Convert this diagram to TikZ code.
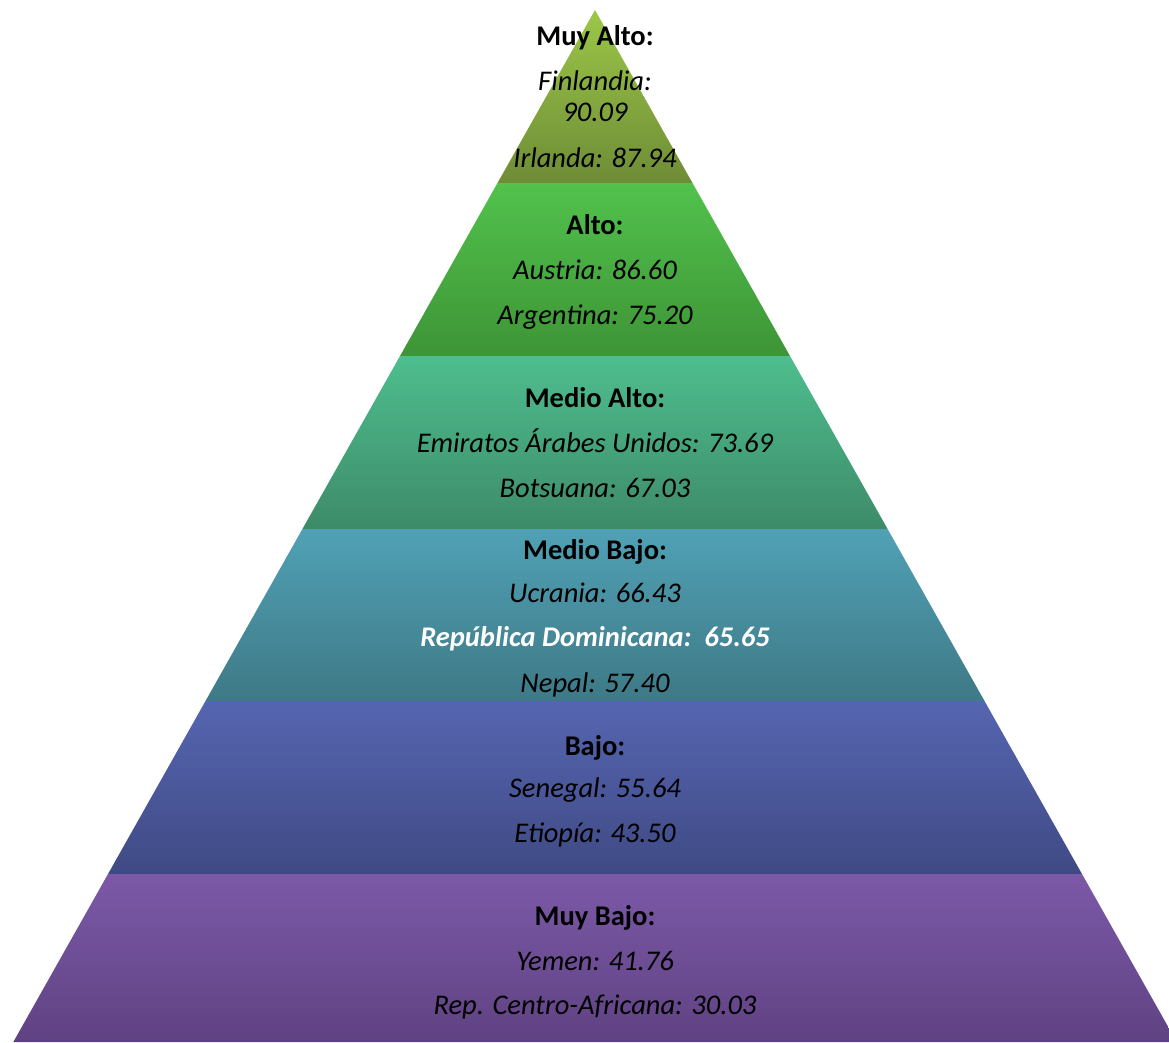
\documentclass[tikz,border=0pt]{standalone}
\usepackage{fontspec}
\setmainfont{Carlito}
\definecolor{aT}{RGB}{156,199,72}
\definecolor{aB}{RGB}{110,140,54}
\definecolor{bT}{RGB}{81,194,76}
\definecolor{bB}{RGB}{62,148,54}
\definecolor{cT}{RGB}{78,190,143}
\definecolor{cB}{RGB}{61,139,104}
\definecolor{dT}{RGB}{80,161,181}
\definecolor{dB}{RGB}{62,121,134}
\definecolor{eT}{RGB}{86,101,177}
\definecolor{eB}{RGB}{63,74,132}
\definecolor{fT}{RGB}{124,89,168}
\definecolor{fB}{RGB}{95,66,130}
\tikzset{
  lbl/.style={anchor=base, inner sep=0pt, font=\fontsize{28.5}{32}\selectfont},
  hd/.style={lbl, font=\fontsize{28.5}{32}\selectfont\bfseries, text=black},
  it/.style={lbl, font=\fontsize{28.5}{32}\selectfont\itshape, text=black},
  itw/.style={lbl, font=\fontsize{28.5}{32}\selectfont\bfseries\itshape, text=white}
}
\begin{document}
\begin{tikzpicture}[x=1pt,y=-1pt]
\useasboundingbox (0,0) rectangle (1169,1042);
\clip (0,0) rectangle (1169,1042);
% layers
\shade[top color=aT, bottom color=aB] (595,10) -- (692.5,183) -- (497.5,183) -- cycle;
\shade[top color=bT, bottom color=bB] (497.5,183) -- (692.5,183) -- (790,356) -- (400,356) -- cycle;
\shade[top color=cT, bottom color=cB] (400,356) -- (790,356) -- (887.6,529) -- (302.4,529) -- cycle;
\shade[top color=dT, bottom color=dB] (302.4,529) -- (887.6,529) -- (984.5,701) -- (205.5,701) -- cycle;
\shade[top color=eT, bottom color=eB] (205.5,701) -- (984.5,701) -- (1082,874) -- (108,874) -- cycle;
\shade[top color=fT, bottom color=fB] (108,874) -- (1082,874) -- (1176.7,1042) -- (13.3,1042) -- cycle;
% texts
\node[hd] (h1) at (595,45) {Muy Alto:};
\node[it] (t1a) at (595,90) {Finlandia:};
\node[it] (t1b) at (595,121) {90.09};
\node[it] (t1c) at (595,167) {Irlanda: 87.94};
\node[hd] (h2) at (595,234) {Alto:};
\node[it] (t2a) at (595,279) {Austria: 86.60};
\node[it] (t2b) at (595,324) {Argentina: 75.20};
\node[hd] (h3) at (595,407) {Medio Alto:};
\node[it] (t3a) at (595,452) {Emiratos Árabes Unidos: 73.69};
\node[it] (t3b) at (595,497) {Botsuana: 67.03};
\node[hd] (h4) at (595,559) {Medio Bajo:};
\node[it] (t4a) at (595,602) {Ucrania: 66.43};
\node[itw] (t4b) at (595,646) {República Dominicana:\ \ 65.65};
\node[it] (t4c) at (595,692) {Nepal: 57.40};
\node[hd] (h5) at (595,755) {Bajo:};
\node[it] (t5a) at (595,797) {Senegal: 55.64};
\node[it] (t5b) at (595,842) {Etiopía: 43.50};
\node[hd] (h6) at (595,925) {Muy Bajo:};
\node[it] (t6a) at (595,970) {Yemen: 41.76};
\node[it] (t6b) at (595,1014) {Rep. Centro-Africana: 30.03};
\end{tikzpicture}
\end{document}
